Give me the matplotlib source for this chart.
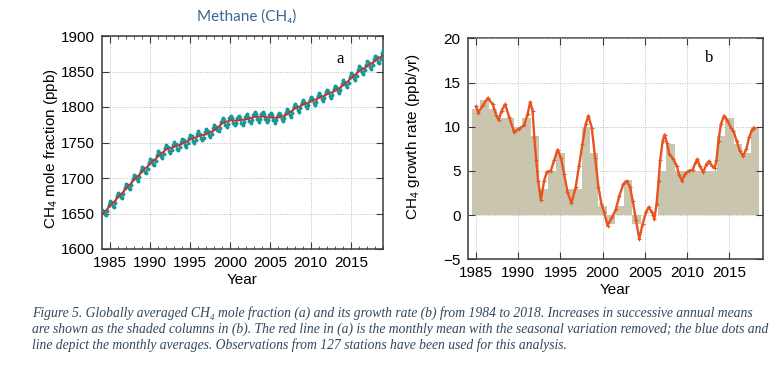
import matplotlib
matplotlib.use('Agg')
import matplotlib.pyplot as plt
from matplotlib.ticker import MultipleLocator

plt.rcParams['font.family'] = ['Liberation Sans', 'DejaVu Sans']
plt.rcParams['mathtext.fontset'] = 'custom'
plt.rcParams['mathtext.rm'] = 'Liberation Sans'
plt.rcParams['mathtext.it'] = 'Liberation Sans:italic'
plt.rcParams['mathtext.bf'] = 'Liberation Sans:bold'

# ---------------- data: panel a ----------------
trend_years = list(range(1984, 2020))
trend_ch4 = [1648, 1660, 1672, 1684.5, 1697, 1708.5, 1719.5, 1730, 1740, 1743.5,
             1748, 1754, 1758.5, 1761.5, 1767, 1777, 1781, 1781, 1782.5, 1786,
             1786.5, 1785, 1785, 1789, 1797.5, 1803, 1807.5, 1812.5, 1817.5, 1822.5,
             1830, 1840, 1850, 1857, 1864.5, 1873]

monthly_years = list(range(1984, 2019))
month_frac = [0.04, 0.21, 0.38, 0.54, 0.71, 0.88]
monthly_ch4 = [
    [1655.5, 1654, 1649, 1647.5, 1653, 1662],
    [1667.5, 1666, 1661, 1659.5, 1665, 1674],
    [1679.5, 1678, 1673, 1671.5, 1677.5, 1686.5],
    [1692, 1690, 1685.5, 1684, 1690, 1699],
    [1704.5, 1703, 1698, 1696, 1701.5, 1710.5],
    [1716, 1714.5, 1709, 1707.5, 1713, 1721.5],
    [1727, 1725, 1720, 1718, 1723.5, 1732],
    [1737.5, 1735.5, 1730.5, 1728.5, 1733.5, 1742.5],
    [1747, 1744, 1738, 1735, 1739, 1746.5],
    [1750.5, 1748, 1741.5, 1739, 1743, 1751],
    [1755, 1753, 1747, 1744, 1749, 1757],
    [1761, 1758.5, 1752, 1749.5, 1753.5, 1761.5],
    [1765.5, 1762.5, 1756, 1753, 1757, 1764.5],
    [1768.5, 1766, 1760, 1757.5, 1762, 1770],
    [1774.5, 1772.5, 1767.5, 1765.5, 1770.5, 1779.5],
    [1784, 1781.5, 1775, 1772, 1776.5, 1784],
    [1788, 1784.5, 1777.5, 1774, 1777.5, 1784.5],
    [1788, 1785, 1778, 1775, 1778.5, 1786],
    [1789.5, 1786.5, 1780.5, 1777.5, 1781.5, 1789],
    [1793, 1789.5, 1782.5, 1779.5, 1783, 1790],
    [1793.5, 1789.5, 1782.5, 1778.5, 1782, 1788.5],
    [1792, 1788.5, 1781.5, 1778, 1781.5, 1788.5],
    [1792, 1789.5, 1783, 1780, 1784.5, 1792],
    [1796.5, 1794.5, 1788.5, 1786.5, 1791.5, 1800],
    [1804.5, 1802, 1796, 1793.5, 1798, 1806],
    [1810, 1807.5, 1801, 1798.5, 1802.5, 1810.5],
    [1814.5, 1812, 1806, 1803, 1807.5, 1815.5],
    [1819.5, 1817, 1811, 1808, 1812.5, 1820.5],
    [1824.5, 1822, 1816, 1813, 1817.5, 1825.5],
    [1830, 1827.5, 1822, 1819.5, 1824.5, 1832.5],
    [1837.5, 1835.5, 1830.5, 1828.5, 1833.5, 1842.5],
    [1847.5, 1845.5, 1840.5, 1838.5, 1843.5, 1852.5],
    [1857.5, 1855, 1849, 1847, 1851.5, 1859.5],
    [1864.5, 1862, 1856.5, 1854, 1859, 1867],
    [1872, 1870, 1864, 1862, 1867, 1875.5],
]
monthly_tail_t = [2019.0]
monthly_tail = [1880]

# ---------------- data: panel b ----------------
bar_years = list(range(1985, 2019))
bar_increase = [12, 13, 12, 11, 11, 10, 11, 9, 3, 5, 7, 3, 3, 10, 7, 1, -1, 1, 4, -1,
                0, 0, 5, 8, 5, 5, 5, 5, 5, 9, 11, 8, 7, 10]

gr_t = [1985.0, 1985.28, 1985.8, 1986.4, 1986.97, 1987.4, 1987.68, 1988.03, 1988.46, 1988.94,
        1989.53, 1990.04, 1990.7, 1991.1, 1991.42, 1991.7, 1991.9, 1992.13, 1992.36, 1992.68,
        1993.07, 1993.39, 1993.86, 1994.25, 1994.65, 1995.04, 1995.43, 1995.83, 1996.3, 1996.81,
        1997.2, 1997.6, 1997.99, 1998.3, 1998.7, 1999.1, 1999.49, 1999.84, 2000.16, 2000.57,
        2001.1, 2001.57, 2001.97, 2002.44, 2002.83, 2003.23, 2003.54, 2003.94, 2004.33, 2004.72,
        2005.12, 2005.43, 2005.83, 2006.1, 2006.38, 2006.61, 2006.8, 2007.09, 2007.32, 2007.6,
        2007.87, 2008.35, 2008.74, 2009.06, 2009.37, 2009.76, 2010.16, 2010.63, 2011.0, 2011.2,
        2011.5, 2011.9, 2012.28, 2012.6, 2012.9, 2013.23, 2013.46, 2013.7, 2013.98, 2014.37,
        2014.76, 2015.16, 2015.47, 2015.83, 2016.22, 2016.6, 2017.0, 2017.32, 2017.64, 2017.9]
gr_v = [12.3, 11.6, 12.4, 13.25, 12.55, 11.3, 10.75, 11.8, 12.55, 11.05,
        9.35, 9.75, 10.15, 11.4, 12.8, 11.8, 8.8, 6.2, 3.9, 1.7,
        3.9, 4.9, 5.0, 6.2, 7.4, 6.5, 4.7, 2.6, 1.35, 3.2,
        5.6, 8.05, 10.3, 11.25, 9.9, 6.5, 3.2, 1.3, 0.35, -1.2,
        -0.25, 0.7, 2.2, 3.5, 3.85, 3.2, 1.65, -0.6, -2.7, -1.0,
        0.35, 0.9, 0.3, -0.45, 1.3, 3.9, 6.2, 8.4, 9.1, 8.2,
        6.9, 6.35, 5.6, 4.5, 3.9, 4.7, 5.0, 5.1, 6.0, 6.35,
        5.5, 4.85, 5.8, 6.1, 5.6, 5.3, 6.2, 8.4, 10.3, 11.25,
        10.7, 9.9, 9.55, 8.4, 7.3, 6.65, 7.5, 8.8, 9.6, 9.9]

caption_lines = [
    "Figure 5. Globally averaged CH\u2084 mole fraction (a) and its growth rate (b) from 1984 to 2018. Increases in successive annual means",
    "are shown as the shaded columns in (b). The red line in (a) is the monthly mean with the seasonal variation removed; the blue dots and",
    "line depict the monthly averages. Observations from 127 stations have been used for this analysis.",
]

# ---------------- figure ----------------
W, H = 779, 371
fig = plt.figure(figsize=(W / 100, H / 100), dpi=100)
fig.patch.set_facecolor('white')

def px_axes(l, t, r, b):
    return fig.add_axes([l / W, 1 - b / H, (r - l) / W, (b - t) / H])

axa = px_axes(102, 36, 383, 249)
axb = px_axes(467.5, 38.3, 763.3, 259.3)

spine_col = '#3a3a3a'
grid_kw = dict(color='#bdbdbd', linestyle=(0, (1, 1.5)), linewidth=0.7)

for ax in (axa, axb):
    for s in ax.spines.values():
        s.set_color(spine_col)
        s.set_linewidth(1.1)
    ax.tick_params(which='both', direction='in', top=True, right=True,
                   colors=spine_col, labelcolor='black', labelsize=11)
    ax.tick_params(which='major', length=5, width=0.8, pad=5)
    ax.tick_params(which='minor', length=2.5, width=0.6)
    ax.grid(True, which='major', **grid_kw)

# panel a
mt = [y + f for y in monthly_years for f in month_frac] + monthly_tail_t
mv = [v for row in monthly_ch4 for v in row] + monthly_tail
axa.plot(mt, mv, color='#17979a', linewidth=1.1, marker='o', markersize=2.8,
         markeredgewidth=0, zorder=3)
axa.plot(trend_years, trend_ch4, color='#c8312b', linewidth=1.3, zorder=4)
axa.set_xlim(1984.05, 2019.0)
axa.set_ylim(1600, 1900)
axa.xaxis.set_minor_locator(MultipleLocator(1))
axa.yaxis.set_major_locator(MultipleLocator(50))
axa.set_xticks([1985, 1990, 1995, 2000, 2005, 2010, 2015])
axa.set_xlabel('Year', fontsize=11, labelpad=2)
axa.set_ylabel('CH$_4$ mole fraction (ppb)', fontsize=11)
axa.yaxis.set_label_coords(-0.148, 0.472)
axa.text(340 / W, 1 - 59 / H, 'a', transform=fig.transFigure, ha='center', va='center',
         fontsize=12, family=['Liberation Serif', 'DejaVu Serif'])

# panel b
axb.set_axisbelow(False)
axb.bar(bar_years, bar_increase, width=1.0, color='#cac6ae', linewidth=0, zorder=1)
axb.plot(gr_t, gr_v, color='#e8531f', linewidth=1.7, marker='+', markersize=3.0,
         markeredgewidth=0.8, zorder=4)
axb.set_xlim(1984.0, 2019.0)
axb.set_ylim(-5, 20)
axb.set_xticks([1985, 1990, 1995, 2000, 2005, 2010, 2015])
axb.set_yticks([-5, 0, 5, 10, 15, 20])
axb.set_xlabel('Year', fontsize=11, labelpad=2)
axb.set_ylabel('CH$_4$ growth rate (ppb/yr)', fontsize=11)
axb.yaxis.set_label_coords(-0.155, 0.556)
axb.text(709 / W, 1 - 58 / H, 'b', transform=fig.transFigure, ha='center', va='center',
         fontsize=12, family=['Liberation Serif', 'DejaVu Serif'])

# title
fig.text(246.5 / W, 1 - 17 / H, 'Methane (CH\u2084)', ha='center', va='center',
         fontsize=11, color='#3b6694', family=['Lato', 'DejaVu Sans'])

# caption
for i, line in enumerate(caption_lines):
    fig.text(32 / W, 1 - (313 + 16 * i) / H, line, ha='left', va='center',
             fontsize=9.8, style='italic', color='#31475f',
             family=['Liberation Serif', 'DejaVu Serif'])

fig.savefig('out.png', dpi=100, facecolor='white')
